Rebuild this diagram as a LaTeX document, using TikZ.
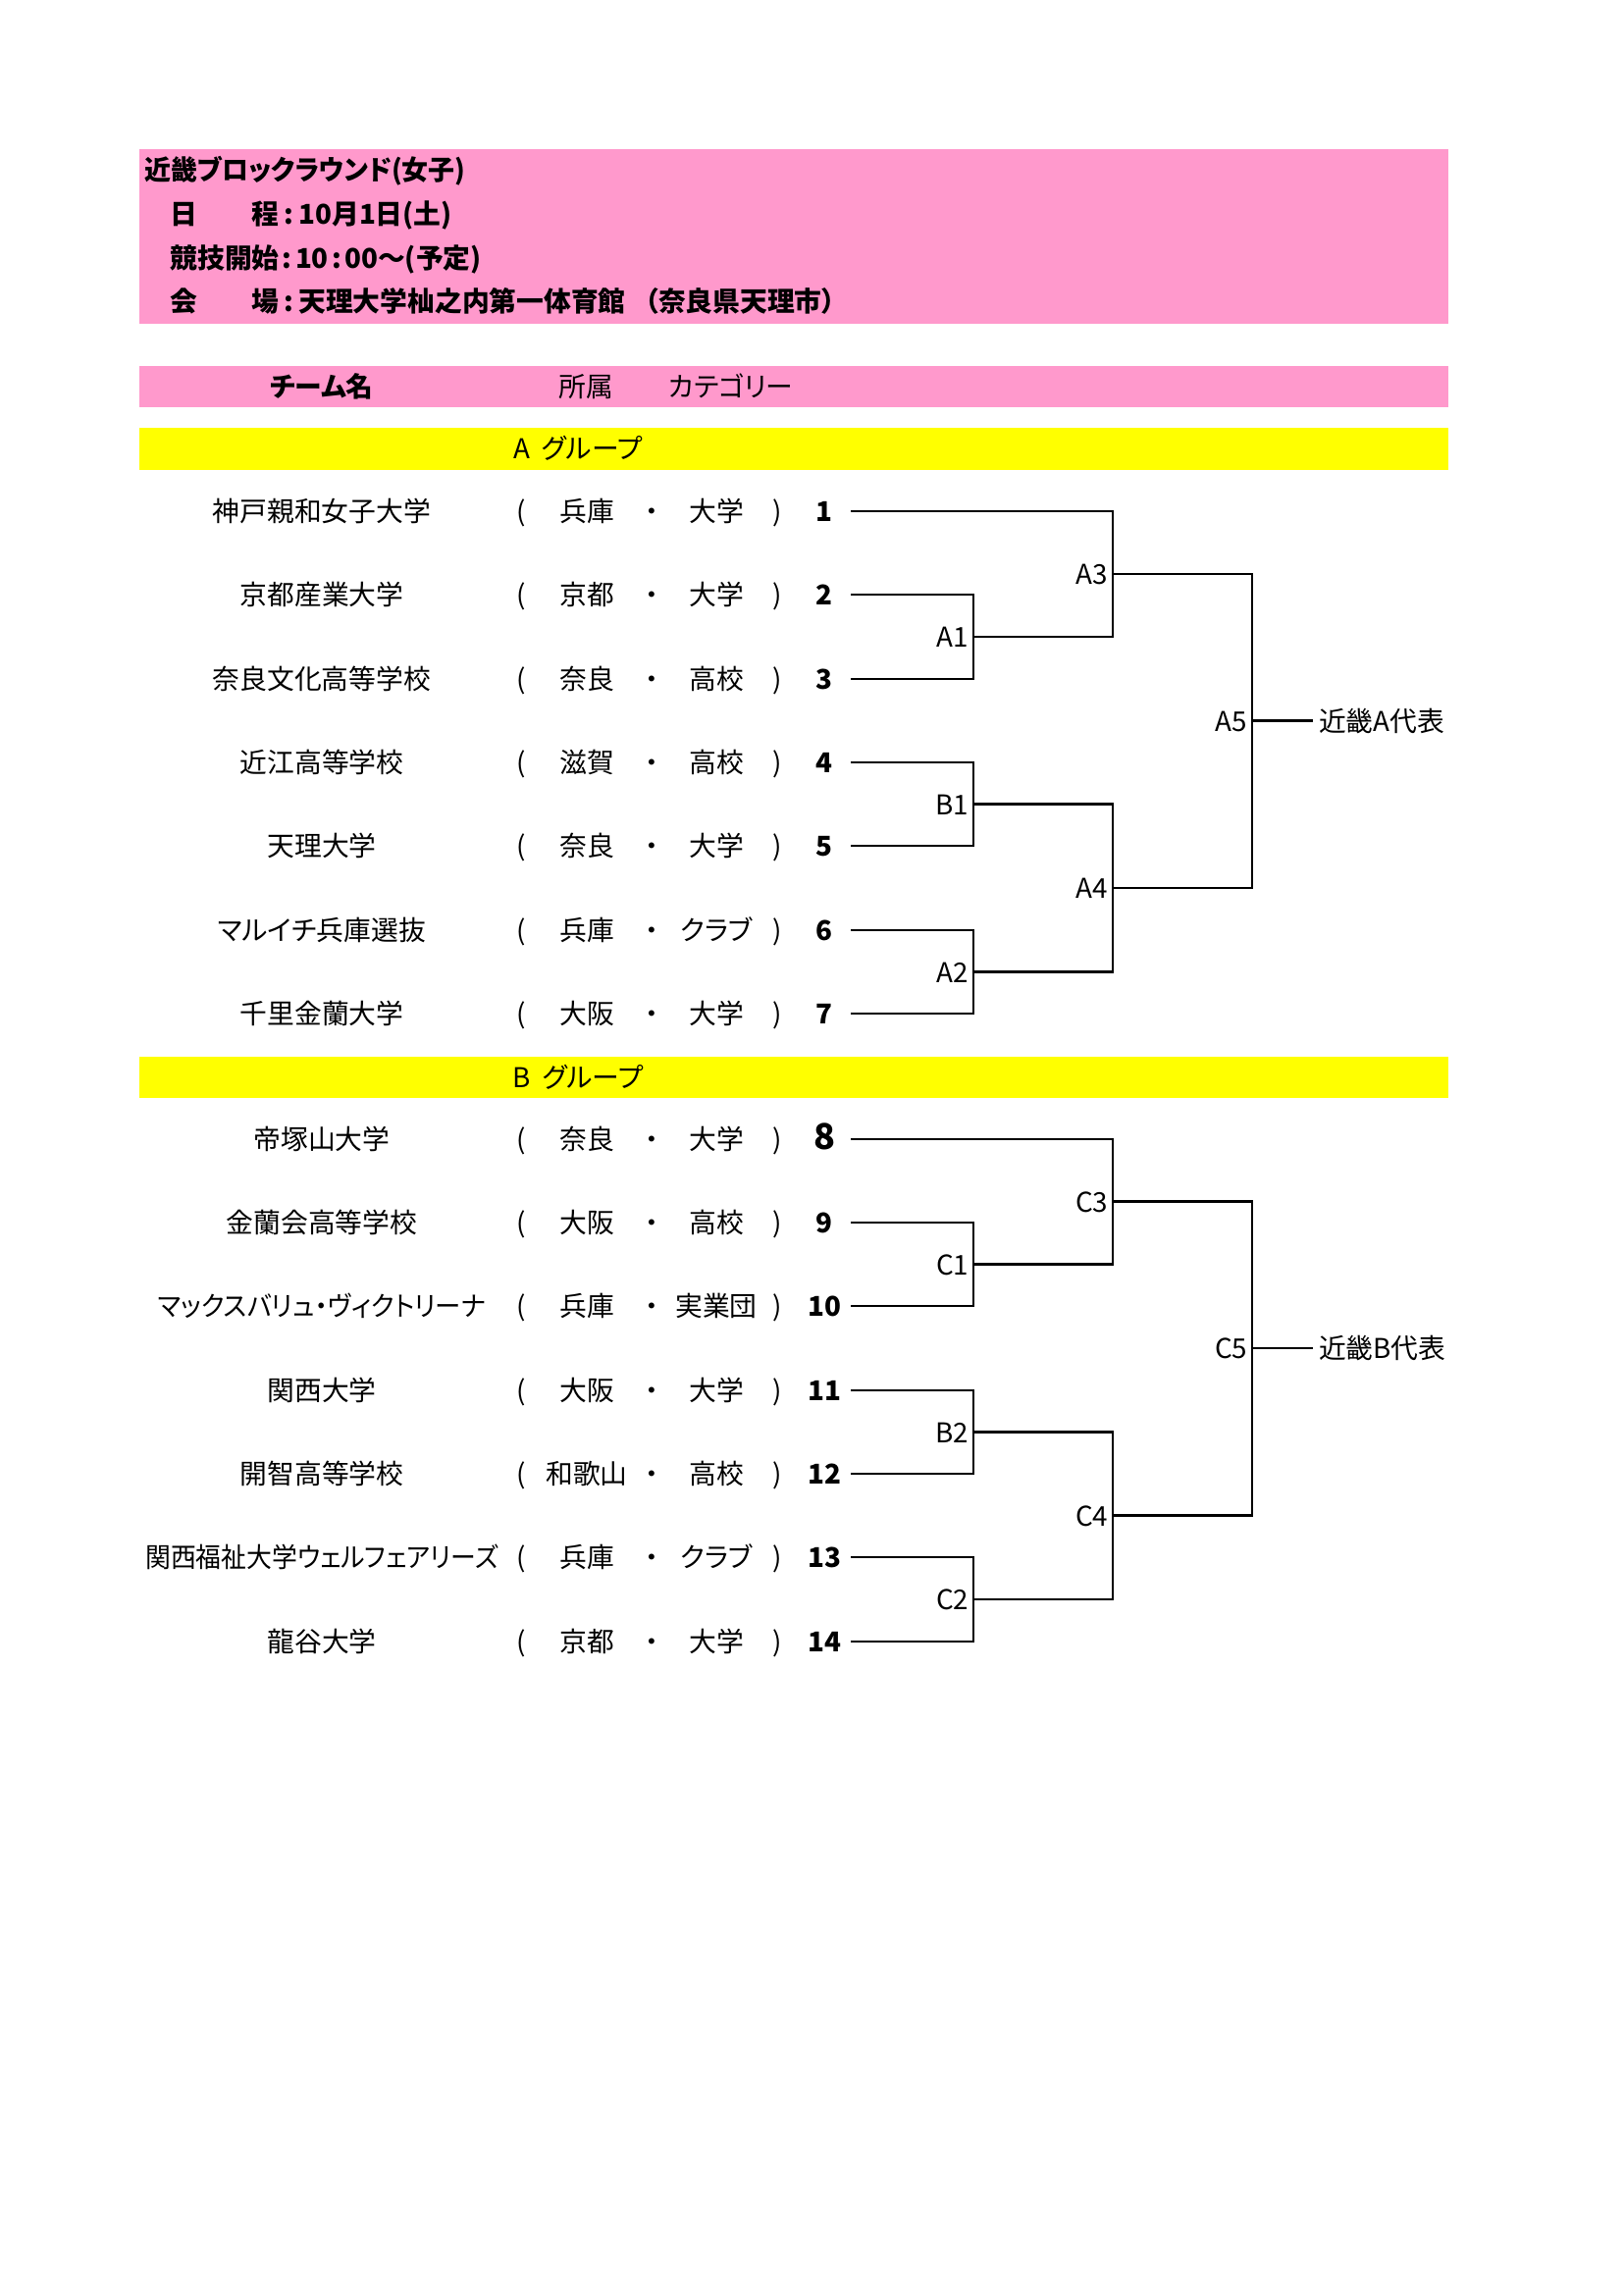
\documentclass[tikz,border=0pt]{standalone}
\usepackage{fontspec}
\setmainfont{Noto Sans CJK JP}[RawFeature=+palt]
\usepackage{graphicx}
\usepackage{tikz}
\definecolor{sheetpink}{RGB}{255,153,204}
\definecolor{sheetyellow}{RGB}{255,255,0}
\newcommand{\sheetfont}{\fontsize{10}{12}\selectfont}
\newcommand{\narrowname}[2]{\scalebox{#1}[1]{#2}}
\tikzset{cell/.style={font=\sheetfont,inner sep=0pt,text height=8.8pt,text depth=1.2pt},
         hdr/.style={cell,font=\sheetfont\bfseries,anchor=west},
         seed/.style={cell,font=\sheetfont\bfseries},
         slot/.style={cell,anchor=east,inner xsep=1.5pt},
         bracket/.style={line width=1pt}}
\newcommand{\teamrow}[6]{%
  \node[cell] (t#1) at (328,#2) {#3};
  \node[cell] (ob#1) at (531,#2) {(};
  \node[cell] (pf#1) at (598,#2) {#4};
  \node[cell] (dot#1) at (664,#2) {・};
  \node[cell] (ca#1) at (730,#2) {#5};
  \node[cell] (cb#1) at (792,#2) {)};
  \node[seed] (n#1) at (840,#2) {#6};
  \coordinate (s#1) at (867,#2);}

\begin{document}
\begin{tikzpicture}[x=0.36pt,y=-0.36pt]
\useasboundingbox (0,0) rectangle (1654,2339);
\fill[white] (0,0) rectangle (1654,2339);
\fill[sheetpink] (142,152) rectangle (1476,330);
\fill[sheetpink] (142,373) rectangle (1476,415);
\fill[sheetyellow] (142,436) rectangle (1476,479);
\fill[sheetyellow] (142,1077) rectangle (1476,1119);

\node[hdr] (title) at (147,173) {\narrowname{0.97}{近畿ブロックラウンド(女子)}};
\node[hdr] (date) at (173,218) {日　　程\hspace{1.8pt}:\hspace{1.8pt}10月1日(土)};
\node[hdr] (start) at (173,263) {競技開始\hspace{1.2pt}:\hspace{1.2pt}10\hspace{1.2pt}:\hspace{1.2pt}00～(予定)};
\node[hdr] (venue) at (173,307) {会　　場\hspace{1.8pt}:\hspace{1.8pt}天理大学杣之内第一体育館\hspace{0.7em}（奈良県天理市）};

\node[cell,font=\sheetfont\bfseries] (colteam) at (328,394) {チーム名};
\node[cell] (colpref) at (597,394) {所属};
\node[cell] (colcat) at (745,394) {カテゴリー};

\node[cell] (grpA) at (589,457) {A\hspace{2pt} グループ};
\node[cell] (grpB) at (589,1098) {B\hspace{2pt} グループ};

\teamrow{1}{521}{神戸親和女子大学}{兵庫}{大学}{1}
\teamrow{2}{606}{京都産業大学}{京都}{大学}{2}
\teamrow{3}{692}{奈良文化高等学校}{奈良}{高校}{3}
\teamrow{4}{777}{近江高等学校}{滋賀}{高校}{4}
\teamrow{5}{862}{天理大学}{奈良}{大学}{5}
\teamrow{6}{948}{マルイチ兵庫選抜}{兵庫}{クラブ}{6}
\teamrow{7}{1033}{千里金蘭大学}{大阪}{大学}{7}
\teamrow{8}{1161}{帝塚山大学}{奈良}{大学}{{\fontsize{13}{14}\selectfont 8}}
\teamrow{9}{1246}{金蘭会高等学校}{大阪}{高校}{9}
\teamrow{10}{1331}{\narrowname{0.95}{マックスバリュ・ヴィクトリーナ}}{兵庫}{実業団}{10}
\teamrow{11}{1417}{関西大学}{大阪}{大学}{11}
\teamrow{12}{1502}{開智高等学校}{和歌山}{高校}{12}
\teamrow{13}{1587}{\narrowname{0.93}{関西福祉大学ウェルフェアリーズ}}{兵庫}{クラブ}{13}
\teamrow{14}{1673}{龍谷大学}{京都}{大学}{14}

\coordinate (jA1) at (992,649);
\coordinate (jB1) at (992,819.5);
\coordinate (jA2) at (992,990.5);
\coordinate (jA3) at (1134,585);
\coordinate (jA4) at (1134,905);
\coordinate (jA5) at (1276,734.5);
\coordinate (jC1) at (992,1288.5);
\coordinate (jB2) at (992,1459.5);
\coordinate (jC2) at (992,1630);
\coordinate (jC3) at (1134,1224.75);
\coordinate (jC4) at (1134,1544.75);
\coordinate (jC5) at (1276,1374);

\draw[bracket] (s2) -| (jA1) |- (s3);
\draw[bracket] (s4) -| (jB1) |- (s5);
\draw[bracket] (s6) -| (jA2) |- (s7);
\draw[bracket] (s1) -| (jA3) |- (jA1);
\draw[bracket] (jB1) -| (jA4) |- (jA2);
\draw[bracket] (jA3) -| (jA5) |- (jA4);
\draw[bracket] (s9) -| (jC1) |- (s10);
\draw[bracket] (s11) -| (jB2) |- (s12);
\draw[bracket] (s13) -| (jC2) |- (s14);
\draw[bracket] (s8) -| (jC3) |- (jC1);
\draw[bracket] (jB2) -| (jC4) |- (jC2);
\draw[bracket] (jC3) -| (jC5) |- (jC4);

\node[slot] (lA1) at (jA1) {A1};
\node[slot] (lB1) at (jB1) {B1};
\node[slot] (lA2) at (jA2) {A2};
\node[slot] (lA3) at (jA3) {A3};
\node[slot] (lA4) at (jA4) {A4};
\node[slot] (lA5) at (jA5) {A5};
\node[slot] (lC1) at (jC1) {C1};
\node[slot] (lB2) at (jB2) {B2};
\node[slot] (lC2) at (jC2) {C2};
\node[slot] (lC3) at (jC3) {C3};
\node[slot] (lC4) at (jC4) {C4};
\node[slot] (lC5) at (jC5) {C5};

\node[cell,anchor=west,inner xsep=2pt] (repA) at (1338,734.5) {近畿A代表};
\node[cell,anchor=west,inner xsep=2pt] (repB) at (1338,1374) {近畿B代表};
\draw[bracket] (jA5) -- (repA.west);
\draw[bracket] (jC5) -- (repB.west);
\end{tikzpicture}
\end{document}
